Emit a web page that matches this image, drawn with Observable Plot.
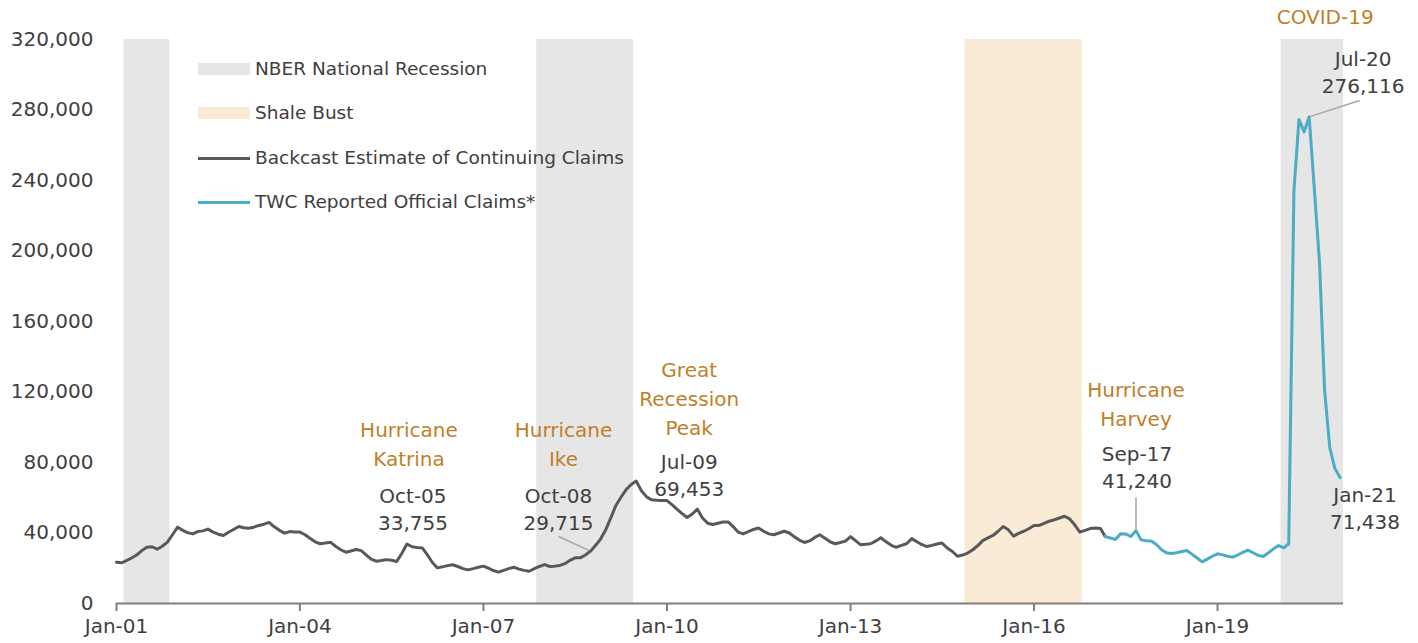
<!DOCTYPE html>
<html>
<head>
<meta charset="utf-8">
<script src="https://cdn.jsdelivr.net/npm/d3@7"></script>
<script src="https://cdn.jsdelivr.net/npm/@observablehq/plot@0.6"></script>
<style>
  html, body { margin: 0; padding: 0; background: #fff; }
  #wrap { position: relative; width: 1418px; height: 643px; font-family: "DejaVu Sans", sans-serif; }
  .legend { position: absolute; left: 198px; top: 0; font-size: 18.5px; color: #404040; }
  .item { position: absolute; left: 0; white-space: nowrap; height: 24px; line-height: 24px; }
  .sw { position: absolute; left: 0; width: 52px; }
  .lbl { position: absolute; left: 57px; top: 0; }
</style>
</head>
<body>
<div id="wrap"></div>
<script>
// ---------- data ----------
const backcastStart = "2001-01-01";
const backcastValues = [
  23400, 23100, 24300, 25800, 27500, 30000, 31900, 32200, 30800, 32500, 34800, 39000, // 2001
  43300, 41500, 40200, 39500, 40800, 41200, 42200, 40500, 39300, 38600, 40400, 42000, // 2002
  43700, 43000, 42700, 43300, 44300, 45000, 46000, 43500, 41500, 39900, 40800, 40600, // 2003
  40500, 39000, 37000, 35000, 33900, 34300, 34800, 32500, 30500, 29100, 29800, 30600, // 2004
  30000, 27500, 25200, 24000, 24400, 24900, 24500, 23800, 28500, 33755, 32200, 31800, // 2005
  31500, 27500, 23400, 20200, 20800, 21500, 22000, 21000, 19800, 19100, 19800, 20600, // 2006
  21200, 20000, 18700, 17800, 18800, 19800, 20600, 19500, 18800, 18300, 19800, 21000, // 2007
  22100, 21000, 21200, 21600, 22600, 24500, 25900, 25900, 27500, 29715, 33000, 36700, // 2008
  42000, 49000, 55500, 60300, 64500, 67500, 69453, 64000, 60500, 58800, 58600, 58500, // 2009
  58400, 56000, 53500, 51000, 48800, 50800, 53500, 48500, 45500, 44800, 45500, 46200, // 2010
  46300, 43500, 40500, 39500, 40800, 42000, 42800, 41000, 39500, 39000, 40000, 41000, // 2011
  40000, 37800, 36000, 34600, 35500, 37500, 39000, 37000, 35000, 33900, 34600, 35400, // 2012
  38000, 35500, 33400, 33600, 33900, 35500, 37300, 35000, 33000, 31900, 33000, 33900, // 2013
  36800, 35000, 33500, 32300, 33000, 33800, 34300, 31500, 29500, 26800, 27500, 28600, // 2014
  30500, 33000, 35700, 37200, 38600, 41000, 43700, 41800, 38200, 39800, 41000, 42400, // 2015
  44300, 44300, 45500, 46700, 47500, 48500, 49500, 48000, 44500, 40500, 41500, 42500, // 2016
  42900, 42500, 38000                                                                  // 2017 Jan-Mar
];
const twcStart = "2017-03-01";
const twcValues = [
  38000, 37200, 36300, 39600, 39500, 38000, 41240, 36100, 35600, 35400,                // 2017 Mar-Dec
  33500, 30500, 28800, 28400, 28800, 29500, 30100, 28000, 25800, 23600, 25200, 26800,  // 2018
  28200, 27600, 26800, 26300, 27500, 29000, 30300, 28800, 27300, 26700, 28800, 31000,  // 2019
  32900, 31600, 33900, 233900, 274600, 267600, 276116, 235000, 193200, 121000, 88400, 76800, // 2020
  71438                                                                                 // 2021 Jan
];
const recessionStarts = ["2001-02-15", "2007-11-15", "2020-01-15"];
const recessionEnds   = ["2001-11-15", "2009-06-15", "2021-01-22"];
const shaleStarts = ["2014-11-15"];
const shaleEnds   = ["2016-10-15"];
const xTickLabels = ["Jan-01", "Jan-04", "Jan-07", "Jan-10", "Jan-13", "Jan-16", "Jan-19"];
const yTickValues = [0, 40000, 80000, 120000, 160000, 200000, 240000, 280000, 320000];
const annotDates  = ["2005-10-01", "2008-10-01", "2009-07-01", "2017-09-01", "2020-07-01", "2021-01-01"];
const annotValues = [33755, 29715, 69453, 41240, 276116, 71438];
const eventNames  = ["Hurricane\nKatrina", "Hurricane\nIke", "Great\nRecession\nPeak", "Hurricane\nHarvey", "COVID-19", null];
const leaderFromDates  = ["2008-03-25", "2017-09-01", "2020-07-01"];
const leaderFromValues = [38000, 60100, 276116];
const leaderToDates    = ["2008-10-01", "2017-09-01", "2021-04-28"];
const leaderToValues   = [29715, 41240, 285400];
const legendLabels = ["NBER National Recession", "Shale Bust", "Backcast Estimate of Continuing Claims", "TWC Reported Official Claims*"];

// ---------- build tables ----------
const parse = s => new Date(s + "T00:00:00Z");
const monthSeq = (start, n) => d3.range(n).map(i => d3.utcMonth.offset(parse(start), i));
const backcast = monthSeq(backcastStart, backcastValues.length).map((d, i) => ({date: d, value: backcastValues[i]}));
const twc = monthSeq(twcStart, twcValues.length).map((d, i) => ({date: d, value: twcValues[i]}));
const recessions = recessionStarts.map((s, i) => ({start: parse(s), end: parse(recessionEnds[i])}));
const shale = shaleStarts.map((s, i) => ({start: parse(s), end: parse(shaleEnds[i])}));
const xTicks = xTickLabels.map(l => d3.utcParse("%b-%y")(l));
const annots = annotDates.map((d, i) => ({date: parse(d), value: annotValues[i],
  label: d3.utcFormat("%b-%y")(parse(d)) + "\n" + d3.format(",")(annotValues[i]), event: eventNames[i]}));
const leaders = leaderFromDates.map((d, i) => ({x1: parse(d), y1: leaderFromValues[i], x2: parse(leaderToDates[i]), y2: leaderToValues[i]}));

// ---------- layout (pixel offsets, styles) ----------
const ORANGE = "#bf7f2a", TEXTGRAY = "#404040";
const GRAYLINE = "#595959", BLUE = "#4bacc6";
const REC = "#e6e6e6", SHALE = "#faebd7";
const labelOffsets = [[6, -36], [-32, -43], [53, -7], [1, -65], [54, -46], [25, 29.5]];
const eventOffsets = [[2, -101.5], [-27, -108.6], [53, -84.6], [0, -129], [16, -22], null];

const valueTextMarks = annots.map((a, i) => Plot.text([a], {
  x: "date", y: "value", text: "label", dx: labelOffsets[i][0], dy: labelOffsets[i][1],
  fill: TEXTGRAY, fontSize: 20, lineHeight: 1.35, textAnchor: "middle", lineAnchor: "middle"
}));
const eventTextMarks = annots.map((a, i) => {
  if (!a.event) return null;
  if (a.event === "COVID-19") {
    return Plot.text([a], {x: "date", y: () => 320000, text: "event", dx: eventOffsets[i][0], dy: eventOffsets[i][1],
      fill: ORANGE, fontSize: 20, textAnchor: "middle", lineAnchor: "middle"});
  }
  return Plot.text([a], {x: "date", y: "value", text: "event", dx: eventOffsets[i][0], dy: eventOffsets[i][1],
    fill: ORANGE, fontSize: 20, lineHeight: 1.45, textAnchor: "middle", lineAnchor: "middle"});
}).filter(Boolean);

const chart = Plot.plot({
  width: 1418, height: 643,
  marginLeft: 116, marginRight: 75, marginTop: 39, marginBottom: 40,
  style: {fontFamily: "'DejaVu Sans', sans-serif", fontSize: "20px", color: TEXTGRAY, background: "white", overflow: "visible"},
  x: {type: "utc", domain: [parse("2001-01-01"), parse("2021-01-22")]},
  y: {domain: [0, 320000]},
  marks: [
    Plot.rect(recessions, {x1: "start", x2: "end", y1: () => 0, y2: () => 320000, fill: REC}),
    Plot.rect(shale, {x1: "start", x2: "end", y1: () => 0, y2: () => 320000, fill: SHALE}),
    Plot.axisY({ticks: yTickValues, tickFormat: d3.format(","), tickSize: 0, tickPadding: 23, fontSize: 20, fill: TEXTGRAY, label: null}),
    Plot.axisX({ticks: xTicks, tickFormat: d3.utcFormat("%b-%y"), tickSize: 8, tickPadding: 7, fontSize: 20,
      stroke: "#7f7f7f", strokeWidth: 2, fill: TEXTGRAY, label: null}),
    Plot.ruleY([0], {stroke: "#7f7f7f", strokeWidth: 2}),
    Plot.link(leaders, {x1: "x1", y1: "y1", x2: "x2", y2: "y2", stroke: "#a6a6a6", strokeWidth: 1.5}),
    Plot.line(backcast, {x: "date", y: "value", stroke: GRAYLINE, strokeWidth: 3, strokeLinejoin: "round"}),
    Plot.line(twc, {x: "date", y: "value", stroke: BLUE, strokeWidth: 3, strokeLinejoin: "round"}),
    ...valueTextMarks,
    ...eventTextMarks
  ]
});

const wrap = document.getElementById("wrap");
wrap.appendChild(chart);

// legend overlay
const legendKinds = [
  {kind: "rect", color: REC}, {kind: "rect", color: SHALE},
  {kind: "line", color: GRAYLINE}, {kind: "line", color: BLUE}
];
const rowCenters = [69, 113, 158, 202];
const leg = document.createElement("div");
leg.className = "legend";
legendLabels.forEach((t, i) => {
  const it = document.createElement("div");
  it.className = "item";
  it.style.top = (rowCenters[i] - 12) + "px";
  const sw = document.createElement("div");
  sw.className = "sw";
  const h = legendKinds[i].kind === "rect" ? 12 : 3;
  sw.style.height = h + "px";
  sw.style.top = (12 - h / 2) + "px";
  sw.style.background = legendKinds[i].color;
  const lb = document.createElement("span");
  lb.className = "lbl";
  lb.textContent = t;
  it.appendChild(sw); it.appendChild(lb);
  leg.appendChild(it);
});
wrap.appendChild(leg);
</script>
</body>
</html>
